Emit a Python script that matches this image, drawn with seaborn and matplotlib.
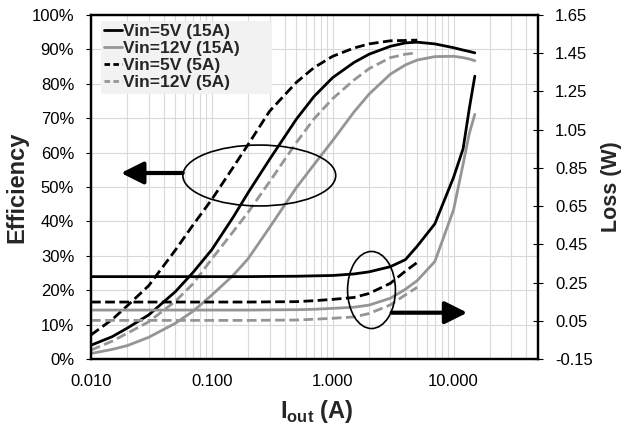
import numpy as np
import pandas as pd
import matplotlib
matplotlib.use("Agg")
import matplotlib.pyplot as plt
import seaborn as sns
from matplotlib.patches import Ellipse, FancyArrowPatch
from matplotlib.lines import Line2D
from matplotlib.ticker import LogLocator, NullFormatter, FixedLocator, FuncFormatter

# ---- data -------------------------------------------------------------
series_names = ["Vin=5V (15A)", "Vin=12V (15A)", "Vin=5V (5A)", "Vin=12V (5A)"]

# output current (A)
i_15a = [0.01, 0.015, 0.02, 0.03, 0.05, 0.07, 0.1, 0.15, 0.2, 0.3, 0.5, 0.7,
         1, 1.5, 2, 3, 4, 5, 7, 10, 12, 13.5, 15]
i_5a = [0.01, 0.015, 0.02, 0.03, 0.05, 0.07, 0.1, 0.15, 0.2, 0.3, 0.5, 0.7,
        1, 1.5, 2, 3, 4, 5]

# efficiency (%)
eff_5v_15a = [4.0, 6.5, 9.0, 12.8, 19.6, 25.2, 31.8, 41.2, 48.4, 58.0, 69.7, 76.3,
              81.8, 86.2, 88.6, 90.9, 91.9, 92.1, 91.6, 90.5, 89.8, 89.4, 89.0]
eff_12v_15a = [1.6, 2.8, 3.9, 6.3, 10.4, 13.9, 18.6, 24.3, 29.2, 38.2, 49.8, 56.5,
               63.5, 71.8, 77.0, 82.8, 85.5, 86.9, 87.9, 88.0, 87.6, 87.2, 86.7]
eff_5v_5a = [7.0, 11.5, 15.5, 21.3, 31.7, 39.0, 46.4, 55.7, 62.4, 72.0, 80.4, 84.7,
             88.0, 90.4, 91.6, 92.5, 92.6, 92.7]
eff_12v_5a = [2.6, 5.2, 7.5, 10.8, 16.8, 21.9, 29.1, 37.0, 42.7, 51.5, 62.9, 69.8,
              75.7, 81.1, 84.4, 87.6, 88.6, 89.0]

# power loss (W)
loss_5v_15a = [0.281, 0.281, 0.281, 0.281, 0.281, 0.281, 0.281, 0.281, 0.281, 0.282, 0.283, 0.285,
               0.287, 0.295, 0.306, 0.333, 0.370, 0.440, 0.557, 0.800, 0.950, 1.160, 1.330]
loss_12v_15a = [0.106, 0.106, 0.106, 0.106, 0.106, 0.106, 0.106, 0.106, 0.106, 0.107, 0.108, 0.110,
                0.115, 0.121, 0.132, 0.168, 0.215, 0.260, 0.360, 0.630, 0.870, 1.030, 1.130]
loss_5v_5a = [0.148, 0.148, 0.148, 0.148, 0.148, 0.148, 0.148, 0.148, 0.148, 0.149, 0.150, 0.155,
              0.162, 0.172, 0.193, 0.246, 0.310, 0.355]
loss_12v_5a = [0.052, 0.052, 0.052, 0.052, 0.052, 0.052, 0.052, 0.052, 0.052, 0.053, 0.054, 0.058,
               0.063, 0.070, 0.088, 0.133, 0.186, 0.225]

x_ticks = [0.01, 0.1, 1, 10]
x_tick_labels = ["0.010", "0.100", "1.000", "10.000"]
eff_ticks = [0, 10, 20, 30, 40, 50, 60, 70, 80, 90, 100]
loss_ticks = [-0.15, 0.05, 0.25, 0.45, 0.65, 0.85, 1.05, 1.25, 1.45, 1.65]

# ---- tidy tables ------------------------------------------------------
currents = [i_15a, i_15a, i_5a, i_5a]
effs = [eff_5v_15a, eff_12v_15a, eff_5v_5a, eff_12v_5a]
losses = [loss_5v_15a, loss_12v_15a, loss_5v_5a, loss_12v_5a]

eff_df = pd.concat([pd.DataFrame({"I": c, "eff": e, "series": n})
                    for c, e, n in zip(currents, effs, series_names)], ignore_index=True)
loss_df = pd.concat([pd.DataFrame({"I": c, "loss": l, "series": n})
                     for c, l, n in zip(currents, losses, series_names)], ignore_index=True)

GRAY = "#959595"
palette = {series_names[0]: "black", series_names[1]: GRAY,
           series_names[2]: "black", series_names[3]: GRAY}
dash_map = {series_names[0]: "", series_names[1]: "",
            series_names[2]: (3.5, 1.6), series_names[3]: (3.5, 1.6)}

# ---- style ------------------------------------------------------------
sns.set_theme(style="white")
plt.rcParams["font.family"] = ["Liberation Sans", "DejaVu Sans"]
plt.rcParams["axes.unicode_minus"] = False
plt.rcParams["mathtext.fontset"] = "custom"
plt.rcParams["mathtext.rm"] = "Liberation Sans"
plt.rcParams["mathtext.bf"] = "Liberation Sans:bold"

fig = plt.figure(figsize=(6.26, 4.29), dpi=100)
ax = fig.add_axes([91 / 626, 1 - 359 / 429, (538 - 91) / 626, (359 - 15) / 429])
ax2 = ax.twinx()

sns.lineplot(data=eff_df, x="I", y="eff", hue="series", style="series",
             palette=palette, dashes=dash_map, estimator=None, sort=False,
             lw=2.0, legend=False, ax=ax)
sns.lineplot(data=loss_df, x="I", y="loss", hue="series", style="series",
             palette=palette, dashes=dash_map, estimator=None, sort=False,
             lw=2.0, legend=False, ax=ax2)

# ---- axes -------------------------------------------------------------
ax.set_xscale("log")
ax.set_xlim(0.01, 50)
ax.set_ylim(0, 100)
ax2.set_ylim(-0.15, 1.65)

ax.xaxis.set_major_locator(FixedLocator(x_ticks))
ax.set_xticklabels(x_tick_labels)
ax.xaxis.set_minor_locator(LogLocator(base=10, subs=np.arange(2, 10)))
ax.xaxis.set_minor_formatter(NullFormatter())

ax.yaxis.set_major_locator(FixedLocator(eff_ticks))
ax.yaxis.set_major_formatter(FuncFormatter(lambda v, p: f"{v:.0f}%"))
ax2.yaxis.set_major_locator(FixedLocator(loss_ticks))
ax2.yaxis.set_major_formatter(FuncFormatter(lambda v, p: f"{v:.2f}"))

ax.grid(True, which="both", axis="x", color="#d9d9d9", lw=0.8)
ax.grid(True, which="major", axis="y", color="#d9d9d9", lw=0.8)
ax.set_axisbelow(True)

ax.tick_params(axis="x", which="both", length=0, pad=11, labelsize=12, colors="black")
ax.tick_params(axis="y", direction="out", length=3.6, width=0.8, pad=8.5,
               labelsize=12, left=True, colors="black")
ax2.tick_params(axis="y", direction="inout", length=7.5, width=0.8, pad=8.5,
                labelsize=12, right=True, colors="black")

for a in (ax, ax2):
    for s in a.spines.values():
        s.set_color("black")
        s.set_linewidth(1.6)

ax.set_xlabel("")
ax.set_ylabel("Efficiency", fontsize=17, fontweight="bold", labelpad=2)
ax2.set_ylabel("Loss (W)", fontsize=15.5, fontweight="bold", labelpad=6)
fig.text(0.506, 0.026, r"I$_{\mathbf{out}}$ (A)", ha="center", va="baseline",
         fontsize=17, fontweight="bold")

# ---- callouts ---------------------------------------------------------
ax2.add_patch(Ellipse((0.3765, 0.5334), 0.342, 0.177, transform=ax2.transAxes,
                      fill=False, edgecolor="black", lw=1.2, zorder=5))
ax2.add_patch(Ellipse((0.6275, 0.2006), 0.107, 0.224, transform=ax2.transAxes,
                      fill=False, edgecolor="black", lw=1.2, zorder=5))
for tail, tip in [((0.2051, 0.5407), (0.0671, 0.5407)),
                  ((0.6727, 0.1346), (0.8418, 0.1346))]:
    ax2.add_patch(FancyArrowPatch(tail, tip, transform=ax2.transAxes,
                                  arrowstyle="-|>,head_length=1.0,head_width=0.5",
                                  mutation_scale=13.5, lw=3, color="black",
                                  shrinkA=0, shrinkB=0, zorder=5))

# ---- legend -----------------------------------------------------------
handles = [Line2D([], [], color="black", lw=2.0),
           Line2D([], [], color=GRAY, lw=2.0),
           Line2D([], [], color="black", lw=2.0, ls=(0, (2.0, 1.2))),
           Line2D([], [], color=GRAY, lw=2.0, ls=(0, (2.0, 1.2)))]
leg = ax2.legend(handles, series_names, loc="upper left", mode="expand",
                 bbox_to_anchor=(0.0217, 0.780, 0.384, 0.203), frameon=True,
                 fancybox=False, facecolor="#f2f2f2", edgecolor="none", framealpha=1,
                 prop={"family": "Liberation Sans", "weight": "bold", "size": 12.5},
                 handlelength=1.0, handletextpad=0.1, labelspacing=0.1,
                 borderpad=0.2, borderaxespad=0)
leg.set_zorder(10)

fig.savefig("out.png", dpi=100, facecolor="white")
